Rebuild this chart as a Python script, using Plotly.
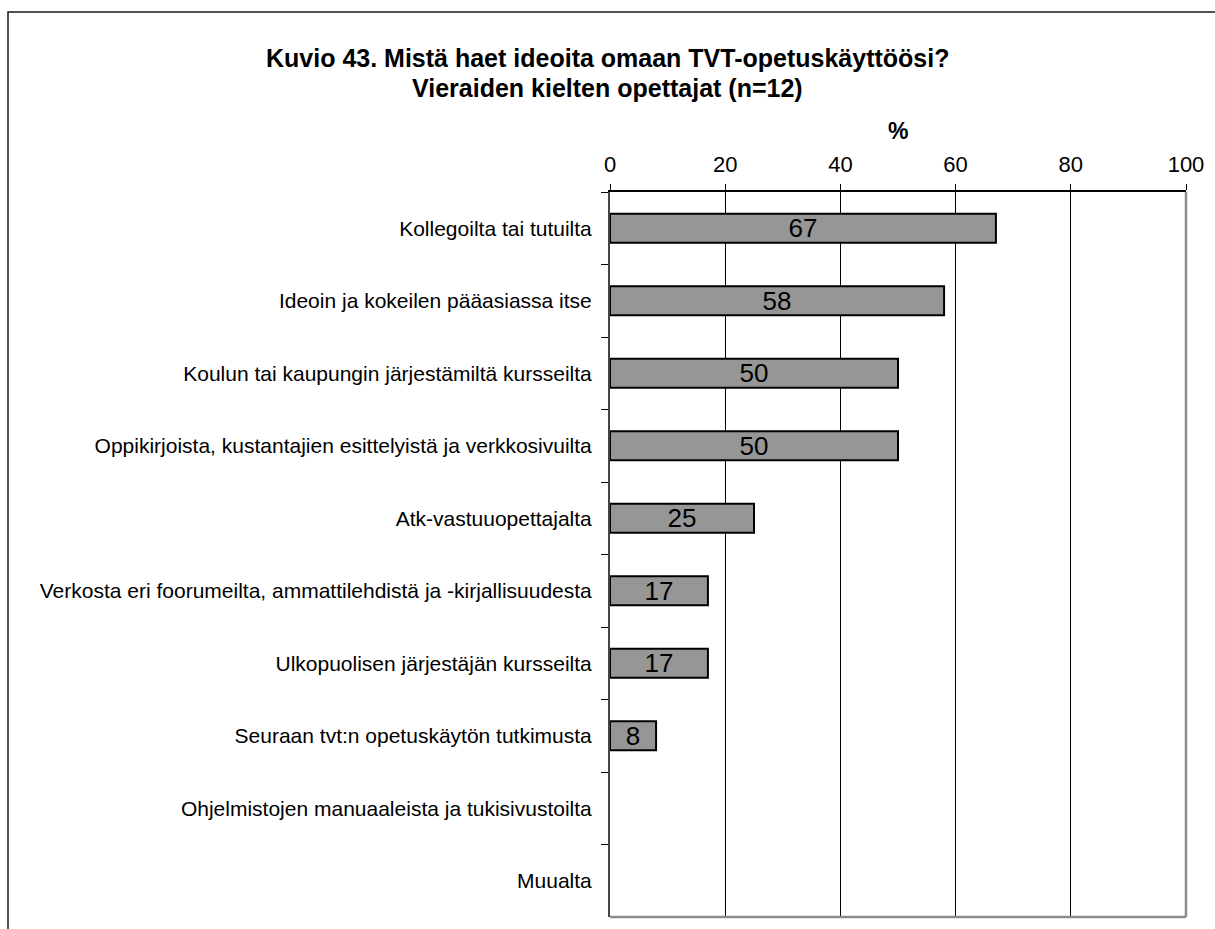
import plotly.graph_objects as go

# Survey answers: where foreign-language teachers get ideas for ICT use (n=12)
categories = [
    "Kollegoilta tai tutuilta",
    "Ideoin ja kokeilen pääasiassa itse",
    "Koulun tai kaupungin järjestämiltä kursseilta",
    "Oppikirjoista, kustantajien esittelyistä ja verkkosivuilta",
    "Atk-vastuuopettajalta",
    "Verkosta eri foorumeilta, ammattilehdistä ja -kirjallisuudesta",
    "Ulkopuolisen järjestäjän kursseilta",
    "Seuraan tvt:n opetuskäytön tutkimusta",
    "Ohjelmistojen manuaaleista ja tukisivustoilta",
    "Muualta",
]
percent = [67, 58, 50, 50, 25, 17, 17, 8, 0, 0]
x_ticks = [0, 20, 40, 60, 80, 100]

title_lines = [
    "Kuvio 43. Mistä haet ideoita omaan TVT-opetuskäyttöösi?",
    "Vieraiden kielten opettajat (n=12)",
]

W, H = 1215, 929
ML, MR, MT, MB = 610, 29, 192, 12
PW, PH = W - ML - MR, H - MT - MB


def px_x(p):
    return (p - ML) / PW


def px_y(p):
    return (H - MB - p) / PH


FONT = "Liberation Sans, Arial, sans-serif"

fig = go.Figure(
    go.Bar(
        x=percent,
        y=categories,
        orientation="h",
        marker=dict(
            color="#969696",
            line=dict(color="#000000", width=[2 if v else 0 for v in percent]),
        ),
        text=[str(v) if v else "" for v in percent],
        textposition="inside",
        insidetextanchor="middle",
        textangle=0,
        textfont=dict(family=FONT, size=26, color="#000000"),
        constraintext="none",
        width=0.4,
        hoverinfo="skip",
    )
)

fig.update_layout(
    width=W,
    height=H,
    margin=dict(l=ML, r=MR, t=MT, b=MB, pad=0),
    paper_bgcolor="white",
    plot_bgcolor="white",
    showlegend=False,
    font=dict(family=FONT, color="#000000"),
    xaxis=dict(
        side="top",
        range=[0, 100],
        tickvals=x_ticks,
        ticktext=[str(t) for t in x_ticks],
        ticks="outside",
        ticklen=6,
        tickcolor="#000000",
        tickfont=dict(size=22, family=FONT),
        showgrid=True,
        gridcolor="#000000",
        gridwidth=1,
        zeroline=False,
        showline=True,
        linecolor="#000000",
        linewidth=1.5,
        ticklabelstandoff=3,
        fixedrange=True,
    ),
    yaxis=dict(
        type="category",
        autorange="reversed",
        tickson="boundaries",
        ticks="outside",
        ticklen=7,
        tickcolor="#000000",
        tickfont=dict(size=21, family=FONT),
        showgrid=False,
        zeroline=False,
        showline=True,
        linecolor="#444444",
        linewidth=2,
        ticklabelstandoff=12,
        fixedrange=True,
    ),
)

# Gray plot-area border on the right and bottom
fig.add_shape(type="line", xref="paper", yref="paper", x0=1, x1=1, y0=0, y1=1,
              line=dict(color="#8c8c8c", width=2.5))
fig.add_shape(type="line", xref="paper", yref="paper", x0=0, x1=1, y0=0, y1=0,
              line=dict(color="#8c8c8c", width=2.5))

# Outer chart frame (left and top edges)
fig.add_shape(
    type="path",
    xref="paper",
    yref="paper",
    path=f"M {px_x(8)},{px_y(940)} L {px_x(8)},{px_y(12)} L {px_x(1225)},{px_y(12)}",
    line=dict(color="#1a1a1a", width=1.5),
)

# Two-line bold title
for text, ypix in zip(title_lines, [58, 88]):
    fig.add_annotation(
        text=f"<b>{text}</b>",
        xref="paper", yref="paper",
        x=px_x(607), y=px_y(ypix),
        xanchor="center", yanchor="middle",
        showarrow=False,
        font=dict(family=FONT, size=25, color="#000000"),
    )

# Axis unit label above the tick labels
fig.add_annotation(
    text="<b>%</b>",
    xref="x", yref="paper",
    x=50, y=px_y(131),
    xanchor="center", yanchor="middle",
    showarrow=False,
    font=dict(family=FONT, size=23, color="#000000"),
)

fig.write_html("out.html")
